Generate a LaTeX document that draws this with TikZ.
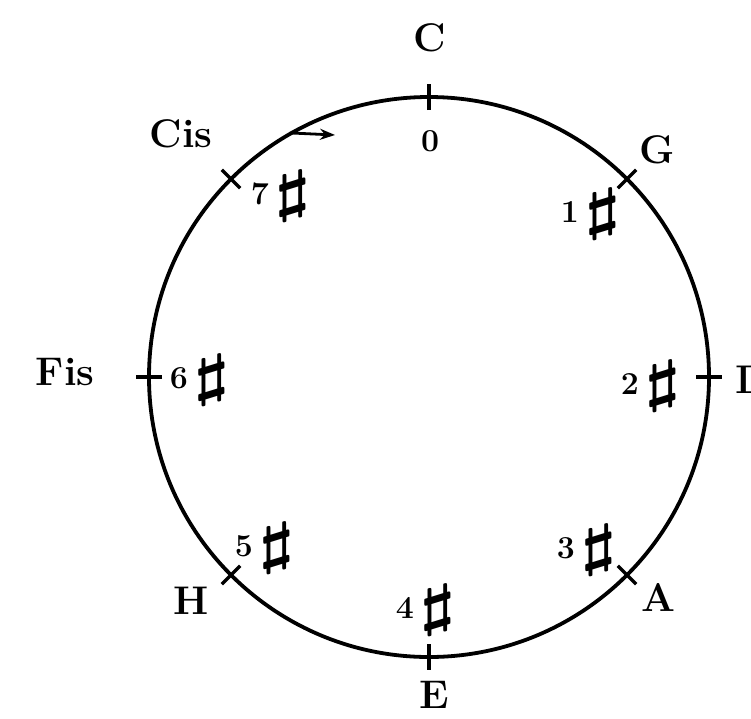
\documentclass[tikz,border=0pt]{standalone}
\usepackage{graphicx}
\usetikzlibrary{calc,arrows.meta}
\newcommand\shp{\raisebox{-6pt}{\scalebox{3.3}[2.3]{\boldmath$\sharp$}}}
\tikzset{
  lbl/.style={font=\fontsize{40}{40}\selectfont\bfseries, inner sep=0pt},
  num/.style={font=\fontsize{32}{32}\selectfont\bfseries, inner sep=0pt},
  ring/.style={line width=3.8pt},
  tick/.style={line width=3.4pt},
}
\begin{document}
\begin{tikzpicture}[x=1pt,y=1pt]
\useasboundingbox (0,0) rectangle (751,-718);
\coordinate (c) at (429,-377);
\draw[ring] (c) circle[radius=280];
\foreach \a/\n in {90/tC,45/tG,0/tD,-45/tA,-90/tE,-135/tH,180/tFis,135/tCis}{
  \coordinate (\n i) at ($(c)+(\a:267)$);
  \coordinate (\n o) at ($(c)+(\a:293)$);
  \draw[tick] (\n i) -- (\n o);
}
% arrow
\coordinate (arrS) at ($(c)+(119.7:281)$);
\coordinate (arrE) at (335,-135);
\draw[line width=2.8pt,-{Stealth[length=15pt,width=11pt]}] (arrS) -- (arrE);
% outer letters
\node[lbl] (C) at (430,-38) {C};
\node[lbl] (G) at (657,-150) {G};
\node[lbl,anchor=west] (D) at (735,-380) {D};
\node[lbl] (A) at (658,-597) {A};
\node[lbl] (E) at (434,-695) {E};
\node[lbl] (H) at (191,-601) {H};
\node[lbl] (Fis) at (65,-372) {Fis};
\node[lbl] (Cis) at (181,-134) {Cis};
% inner numbers
\node[num] (n0) at (430,-141) {0};
\node[num] (n1) at (591,-214) {1\,\shp};
\node[num] (n2) at (651,-386) {2\,\shp};
\node[num] (n3) at (587,-550) {3\,\shp};
\node[num] (n4) at (426,-610) {4\,\shp};
\node[num] (n5) at (265,-548) {5\,\shp};
\node[num] (n6) at (200,-380) {6\,\shp};
\node[num] (n7) at (281,-196) {7\,\shp};
\end{tikzpicture}
\end{document}
